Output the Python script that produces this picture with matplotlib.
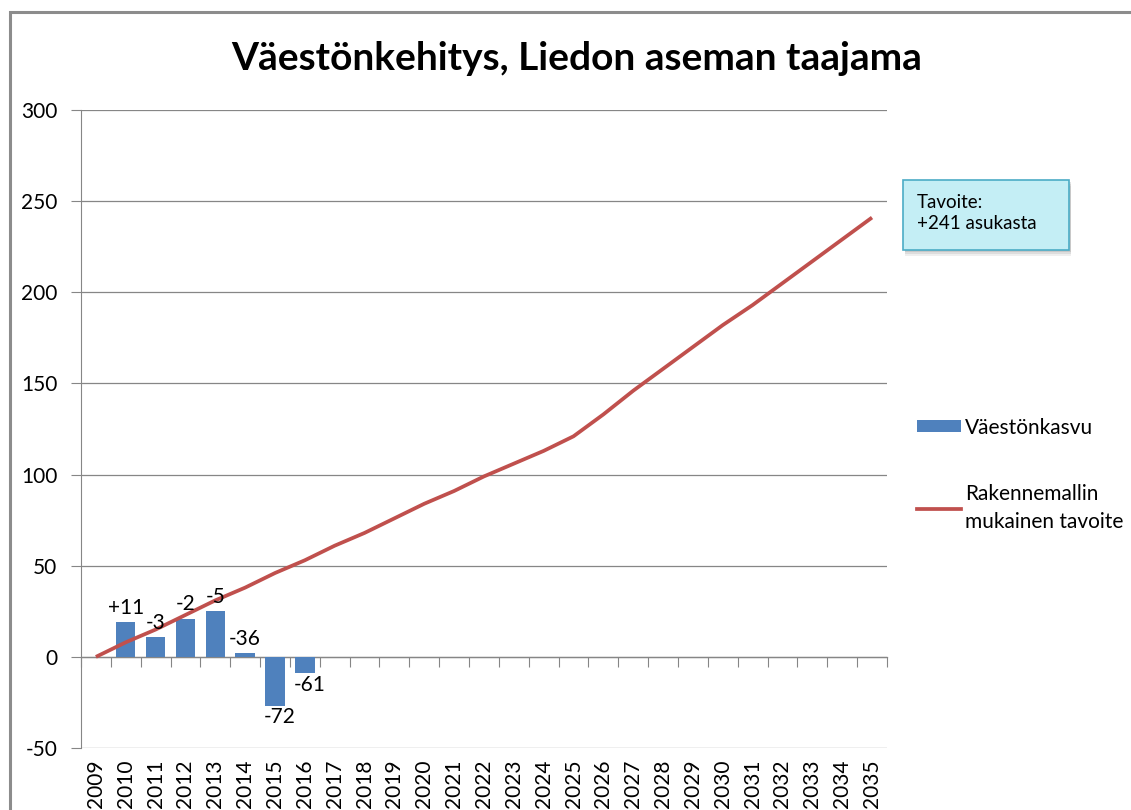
import numpy as np
import matplotlib
matplotlib.use("Agg")
from matplotlib import pyplot as plt
from matplotlib.patches import Rectangle, Patch
from matplotlib.lines import Line2D

years = [str(y) for y in range(2009, 2036)]
growth = [0, 19, 11, 21, 25, 2, -27, -9] + [None] * 19
target = [0, 8, 15, 23, 31, 38, 46, 53, 61, 68, 76, 84, 91, 99, 106, 113, 121,
          133, 146, 158, 170, 182, 193, 205, 217, 229, 241]
bar_labels = ["", "+11", "-3", "-2", "-5", "-36", "-72", "-61"]

BLUE = "#4f81bd"
RED = "#c0504d"
GRID = "#868686"


def main():
	plt.rcParams['font.family'] = ['Lato', 'DejaVu Sans']
	plt.rcParams['axes.unicode_minus'] = False
	fig = plt.figure(figsize=(11.31, 8.1), dpi=100)
	fig.patch.set_facecolor("white")
	fig.patches.append(Rectangle((0.0088, -0.1), 1.2, 1.085, transform=fig.transFigure,
								 fill=False, edgecolor="#8c8c8c", linewidth=2.2))

	ax = fig.add_axes([0.0716, 0.0765, 0.7126, 0.7877])
	x = np.arange(len(years))
	gx = [i for i, v in enumerate(growth) if v is not None]
	gv = [v for v in growth if v is not None]
	ax.bar(gx, gv, width=0.65, color=BLUE, zorder=2)
	ax.plot(x, target, color=RED, linewidth=2.7, zorder=3, solid_capstyle="butt")

	for i, (v, s) in enumerate(zip(gv, bar_labels)):
		if not s:
			continue
		if v >= 0:
			ax.annotate(s, (i, v), xytext=(0, 3), textcoords="offset points",
						ha="center", va="bottom", fontsize=15)
		else:
			ax.annotate(s, (i + 0.15, v), xytext=(0, -1), textcoords="offset points",
						ha="center", va="top", fontsize=15)

	ax.set_xlim(-0.5, len(years) - 0.5)
	ax.set_ylim(-50, 300)
	ax.set_yticks(range(-50, 301, 50))
	ax.yaxis.grid(True, color=GRID, linewidth=0.9, zorder=0)
	ax.set_axisbelow(True)
	for side in ["top", "right", "bottom"]:
		ax.spines[side].set_visible(False)
	ax.spines["left"].set_color(GRID)
	ax.tick_params(axis="y", direction="out", length=7, color=GRID, labelsize=15, pad=10)
	ax.set_xticks(x)
	ax.set_xticklabels(years, rotation=90, fontsize=15)
	ax.tick_params(axis="x", length=0, pad=8)

	# category axis crossing at zero
	zero_ax = ax.secondary_xaxis(50 / 350)
	zero_ax.set_xticks(np.arange(len(years) + 1) - 0.5)
	zero_ax.set_xticklabels([])
	zero_ax.tick_params(direction="out", length=7, color=GRID)
	zero_ax.spines["bottom"].set_color(GRID)
	zero_ax.spines["bottom"].set_linewidth(0.9)

	fig.text(0.51, 0.928, "Väestönkehitys, Liedon aseman taajama", ha="center", va="center",
			 fontsize=28, fontweight="bold")

	handles = [Patch(facecolor=BLUE, edgecolor="none"),
			   Line2D([], [], color=RED, linewidth=2.7)]
	leg = fig.legend(handles, ["Väestönkasvu", "Rakennemallin\nmukainen tavoite"],
					 loc="center left", bbox_to_anchor=(0.794, 0.414), frameon=False,
					 fontsize=15, handlelength=2.1, handleheight=0.5, handletextpad=0.2,
					 labelspacing=2.2)
	for t in leg.get_texts():
		t.set_linespacing(1.5)

	# target note box with a soft shadow
	for k, a in enumerate([0.12, 0.16, 0.22]):
		d = 0.0025 * (3 - k)
		fig.patches.append(Rectangle((0.798 + 0.002, 0.6914 - d), 0.1468, 0.0864,
									 transform=fig.transFigure, facecolor="#808080",
									 edgecolor="none", alpha=a))
	fig.patches.append(Rectangle((0.798, 0.6914), 0.1468, 0.0864, transform=fig.transFigure,
								 facecolor="#c4eef5", edgecolor="#4bacc6", linewidth=1.2))
	fig.text(0.811, 0.737, "Tavoite:\n+241 asukasta", ha="left", va="center",
			 fontsize=13.5, linespacing=1.3)

	fig.savefig("out.png", dpi=100)


if __name__ == "__main__":
	main()
